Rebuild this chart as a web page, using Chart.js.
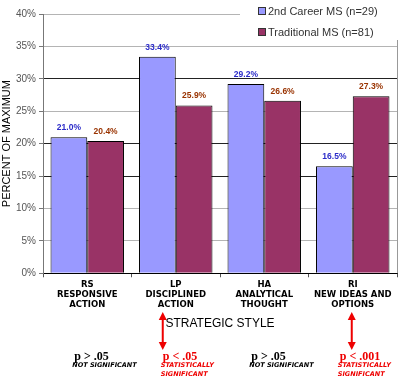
<!DOCTYPE html>
<html>
<head>
<meta charset="utf-8">
<script src="https://cdn.jsdelivr.net/npm/chart.js@4"></script>
<style>
  html, body { margin: 0; padding: 0; background: #fff; }
  #wrap { width: 400px; height: 382px; }
</style>
</head>
<body>
<div id="wrap"><canvas id="styleChart" width="400" height="382"></canvas></div>
<script>
// Category labels (multi-line)
const categories = [
    ['RS', 'RESPONSIVE', 'ACTION'],
    ['LP', 'DISCIPLINED', 'ACTION'],
    ['HA', 'ANALYTICAL', 'THOUGHT'],
    ['RI', 'NEW IDEAS AND', 'OPTIONS']
];

// Series values (percent of maximum)
const secondCareer = [21.0, 33.4, 29.2, 16.5];
const traditional = [20.4, 25.9, 26.6, 27.3];

// Significance notes under each category
const pValues = ['p > .05', 'p < .05', 'p > .05', 'p < .001'];
const sigNotes = [['NOT SIGNIFICANT'], ['STATISTICALLY', 'SIGNIFICANT'], ['NOT SIGNIFICANT'], ['STATISTICALLY', 'SIGNIFICANT']];
const isSignificant = [false, true, false, true];

const blueFill = '#9999ff';
const redFill = '#993366';
const blueText = '#2b2bc8';
const redText = '#993300';

// value labels above each bar
const valueLabels = {
    id: 'valueLabels',
    afterDatasetsDraw(chart) {
        const ctx = chart.ctx;
        ctx.save();
        ctx.font = 'bold 8.5px "Liberation Sans", Arial';
        ctx.textAlign = 'center';
        ctx.textBaseline = 'bottom';
        chart.data.datasets.forEach((ds, di) => {
            ctx.fillStyle = di === 0 ? blueText : redText;
            chart.getDatasetMeta(di).data.forEach((bar, i) => {
                ctx.fillText(ds.data[i].toFixed(1) + '%', bar.x, bar.y - 5);
            });
        });
        ctx.restore();
    }
};

// legend in the top right corner, plus the plot's right border
const cornerLegend = {
    id: 'cornerLegend',
    beforeDatasetsDraw(chart) {
        const ctx = chart.ctx;
        const a = chart.chartArea;
        ctx.save();
        ctx.strokeStyle = '#999';
        ctx.lineWidth = 1;
        ctx.beginPath();
        ctx.moveTo(a.right + 0.5, a.top);
        ctx.lineTo(a.right + 0.5, a.bottom);
        ctx.stroke();
        ctx.restore();
    },
    afterDraw(chart) {
        const ctx = chart.ctx;
        ctx.save();
        ctx.fillStyle = '#fff';
        ctx.fillRect(240, 0, 160, 40);
        ctx.font = '11px "Liberation Sans", Arial';
        ctx.textBaseline = 'middle';
        chart.data.datasets.forEach((ds, i) => {
            const y = 11 + i * 21;
            ctx.fillStyle = ds.backgroundColor;
            ctx.fillRect(258.5, y - 3.5, 7, 7);
            ctx.strokeStyle = '#333';
            ctx.lineWidth = 1;
            ctx.strokeRect(258.5, y - 3.5, 7, 7);
            ctx.fillStyle = '#333';
            ctx.textAlign = 'left';
            ctx.fillText(ds.label, 268, y + 1);
        });
        ctx.restore();
    }
};

// p-value notes and red arrows below the axis title
const sigNotesPlugin = {
    id: 'sigNotes',
    afterDraw(chart) {
        const ctx = chart.ctx;
        const xs = chart.scales.x;
        ctx.save();
        pValues.forEach((p, i) => {
            const cx = xs.getPixelForValue(i);
            const color = isSignificant[i] ? '#ee0000' : '#000';
            ctx.fillStyle = color;
            ctx.textAlign = 'left';
            ctx.textBaseline = 'alphabetic';
            ctx.font = 'bold 12px "Liberation Serif", "Times New Roman"';
            ctx.fillText(p, cx - 13, 360);
            ctx.font = 'italic bold 6.5px "DejaVu Sans", Verdana';
            sigNotes[i].forEach((line, j) => {
                ctx.fillText(line, cx - 15, 367 + j * 8.5);
            });
            if (isSignificant[i]) {
                const ax = i === 1 ? cx - 13 : cx - 1;
                ctx.strokeStyle = color;
                ctx.lineWidth = 2;
                ctx.beginPath();
                ctx.moveTo(ax, 318);
                ctx.lineTo(ax, 344);
                ctx.stroke();
                ctx.beginPath();
                ctx.moveTo(ax, 312);
                ctx.lineTo(ax - 4, 320);
                ctx.lineTo(ax + 4, 320);
                ctx.closePath();
                ctx.fill();
                ctx.beginPath();
                ctx.moveTo(ax, 350);
                ctx.lineTo(ax - 4, 342);
                ctx.lineTo(ax + 4, 342);
                ctx.closePath();
                ctx.fill();
            }
        });
        ctx.restore();
    }
};

const darkLines = [15, 20, 30];

new Chart(document.getElementById('styleChart').getContext('2d'), {
    type: 'bar',
    data: {
        labels: categories,
        datasets: [{
            label: '2nd Career MS (n=29)',
            data: secondCareer,
            backgroundColor: blueFill,
            borderColor: '#000',
            borderWidth: 1,
            categoryPercentage: 0.83,
            barPercentage: 1
        }, {
            label: 'Traditional MS (n=81)',
            data: traditional,
            backgroundColor: redFill,
            borderColor: '#000',
            borderWidth: 1,
            categoryPercentage: 0.83,
            barPercentage: 1
        }]
    },
    options: {
        responsive: false,
        animation: false,
        layout: { padding: { top: 14, right: 3, left: 0, bottom: 51 } },
        plugins: {
            legend: { display: false },
            tooltip: { enabled: false }
        },
        scales: {
            x: {
                grid: { drawOnChartArea: false, drawTicks: true, tickLength: 4, color: '#555' },
                border: { color: '#000', width: 1 },
                ticks: {
                    color: '#000',
                    font: { family: '"DejaVu Sans", Verdana', size: 8.5, weight: 'bold', lineHeight: 1.15 },
                    padding: 3,
                    maxRotation: 0,
                    autoSkip: false
                },
                title: {
                    display: true,
                    text: 'STRATEGIC STYLE',
                    color: '#000',
                    font: { family: '"Liberation Sans", Arial', size: 12 },
                    padding: { top: 4, bottom: 0 }
                }
            },
            y: {
                min: 0,
                max: 40,
                ticks: {
                    stepSize: 5,
                    color: '#555',
                    font: { family: '"Liberation Sans", Arial', size: 10 },
                    padding: 3,
                    callback: v => v + '%'
                },
                grid: {
                    color: c => darkLines.includes(c.tick && c.tick.value) ? '#222' : '#b4b4b4',
                    tickColor: '#777',
                    tickLength: 4
                },
                border: { color: '#777', width: 1 },
                title: {
                    display: true,
                    text: 'PERCENT OF MAXIMUM',
                    color: '#000',
                    font: { family: '"Liberation Sans", Arial', size: 11 },
                    padding: { top: 0, bottom: 2 }
                },
                afterFit(scale) { scale.width = 43; }
            }
        }
    },
    plugins: [valueLabels, cornerLegend, sigNotesPlugin]
});
</script>
</body>
</html>
